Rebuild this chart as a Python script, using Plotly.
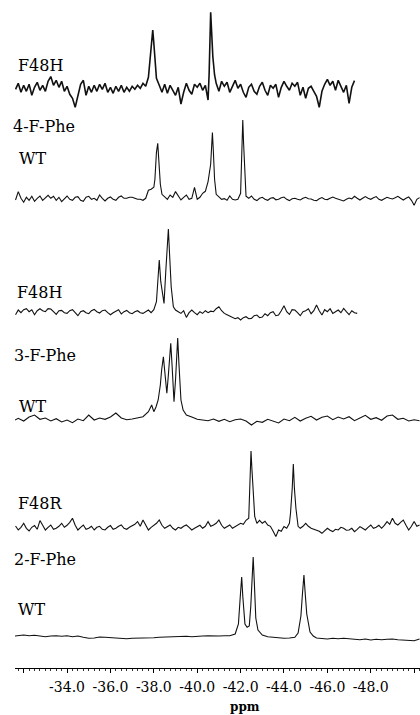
import plotly.graph_objects as go

# ---------------- data: chemical shift (ppm) and intensity (arbitrary units) ----------------
# shared sampling positions of the noisy baselines (every 0.125 ppm)
ppm_grid = [
    -31.625, -31.75, -31.875, -32.0, -32.125, -32.25, -32.375, -32.5,
    -32.625, -32.75, -32.875, -33.0, -33.125, -33.25, -33.375, -33.5,
    -33.625, -33.75, -33.875, -34.0, -34.125, -34.25, -34.375, -34.5,
    -34.625, -34.75, -34.875, -35.0, -35.125, -35.25, -35.375, -35.5,
    -35.625, -35.75, -35.875, -36.0, -36.125, -36.25, -36.375, -36.5,
    -36.625, -36.75, -36.875, -37.0, -37.125, -37.25, -37.375, -37.5,
    -37.625, -37.75, -37.875, -38.0, -38.125, -38.25, -38.375, -38.5,
    -38.625, -38.75, -38.875, -39.0, -39.125, -39.25, -39.375, -39.5,
    -39.625, -39.75, -39.875, -40.0, -40.125, -40.25, -40.375, -40.5,
    -40.625, -40.75, -40.875, -41.0, -41.125, -41.25, -41.375, -41.5,
    -41.625, -41.75, -41.875, -42.0, -42.125, -42.25, -42.375, -42.5,
    -42.625, -42.75, -42.875, -43.0, -43.125, -43.25, -43.375, -43.5,
    -43.625, -43.75, -43.875, -44.0, -44.125, -44.25, -44.375, -44.5,
    -44.625, -44.75, -44.875, -45.0, -45.125, -45.25, -45.375, -45.5,
    -45.625, -45.75, -45.875, -46.0, -46.125, -46.25, -46.375, -46.5,
    -46.625, -46.75, -46.875, -47.0, -47.125, -47.25, -47.375, -47.5,
    -47.625, -47.75, -47.875, -48.0, -48.125, -48.25, -48.375, -48.5,
    -48.625, -48.75, -48.875, -49.0, -49.125, -49.25, -49.375, -49.5,
    -49.625, -49.75, -49.875, -50.0, -50.125, -50.25,
]

# 4-F-Phe, F48H  (None = inside a peak, taken from the peak lists)
base_4f_f48h = [
    0, 6, -3, 4, -2, 5, -6, 2,
    7, -1, 4, -2, 8, 12.7, 4, 9,
    2, 8, -2, 3, -5, -9, -18, -6,
    5, 9, -6, 3, -3, 4, -2, 5,
    0, 6, -3, 2, -4, 3, -2, 4,
    -3, 2, -2, 3, 0, 4, 1, 6,
    3, 12, None, None, None, 4, -3, 5,
    -4, 4, -1, -6, 2, -14.7, -3, 6,
    -1, -5, 5, 2, 6, -1, 4, -10.7,
    None, None, 6, -2, 8, 3, 7, -3,
    4, 9, 1, 5, -3, -8, 2, 5,
    -2, -5, 3, 7, -1, -6, 4, 1,
    5, -8, 2, 8, 3, -1, 6, 3,
    7, -6, 2, -9, 1, 3, -2, -7,
    -18, -2, 5, 10, 4, 8, -1, 9,
    3, -3, 4, -14, 2, 8.7,
]
peak_ppm_4f_f48h = [-37.85, -37.9, -37.95, -38.0, -38.05, -38.12,
                    -40.55, -40.59, -40.62, -40.66, -40.72, -40.8]
peak_int_4f_f48h = [32.7, 49, 59.3, 46, 31, 11,
                    16, 56, 77, 59.3, 32.7, 14.3]

# 4-F-Phe, WT
base_4f_wt = [
    -0.7, 7.7, 1, -3, 2, -1, 3, -2,
    1, 3.3, -1, 2, 4, 1, 3, -1,
    2, -2.3, 1, 3.3, 0, -1, 2, 2.7,
    -1, -2, 2, 3, 0, 1, -1, 4.3,
    1, -1.7, 1, 2.3, 0, -1, 2, 3.3,
    1, 1, 2, 2, 1, 0, 0, -1,
    1, 9, 10, 12, None, None, 5, 2,
    0, 4.3, 2, 7.7, 3, -0.7, 2, 4.3,
    0, 1, 12, 0, 2, 6, 8, 17.7,
    None, None, 5, 2, 0, 0.7, -1, 3.3,
    0, -0.7, 0, 6, None, 3, 1, 3.3,
    0, -1.3, 1, 2, 0, -1, 1, 1.7,
    -0.5, 0, 1.5, 2.3, 0, -1.3, 0.5, 1,
    0, -0.7, 1, 2, 0.5, 0.3, -1, -1.3,
    0.5, 1.7, 0, -0.3, 1, 2.3, 1, 0,
    -1, -1.7, 0, 1.3, 0.5, 3, 1, -0.7,
    1, 2.7, 1, 0, 1.5, 2.7, 0, -1,
    0.5, 2, 1, 0.3, 1.5, 3, 1, -0.7,
    1, 2.3, -1, -6, 0, 1.7,
]
peak_ppm_4f_wt = [-38.05, -38.12, -38.18, -38.24, -38.3,
                  -40.62, -40.67, -40.7, -40.74, -40.8,
                  -42.04, -42.07, -42.1, -42.14, -42.2]
peak_int_4f_wt = [20, 47, 56, 40, 15,
                  35, 58, 66.7, 50, 20,
                  30, 60, 79.3, 55, 20]

# 3-F-Phe, F48H
base_3f_f48h = [
    -3, 1.7, -1, 2, 3, 0, 2, -3,
    1, 3, 1, 0, 3, 2.7, 0, -2.7,
    1, 1.3, -1, -1.7, 1, 2, -1, -4,
    0, 1, -1, -2, 1, 2.3, 0, -1.3,
    1, 1.7, -1, -3, -1, 0.7, 2, -2.3,
    0, 1.3, -1, -2, 0, 1, -1, -1.7,
    0, 1.7, -1, 2, None, None, None, None,
    None, None, None, 1.7, 0, -1.7, 1, -5.7,
    -1, 1.7, -1, -3, 0, -1.7, 1, -1,
    0.5, 0, 3, 5, 1, -1.7, -3, -4.3,
    -5.5, -7, -6, -8.3, -6, -5, -7, -6.7,
    -4, -3.3, -6, -5.3, -2, -4, -1, 0,
    -4, -3.3, 1, 6, 0, -2.7, 2, 1.7,
    -1, -4, 0, 1, 3, -2, 1, 6.7,
    1, -3.3, 2, 0, 3, -1.7, 0, 1.7,
    -1, 3.3, 0, -3, 1, -1, -1.7,
]
peak_ppm_3f_f48h = [-38.12, -38.18, -38.25, -38.32, -38.4, -38.47,
                    -38.55, -38.62, -38.67, -38.72, -38.8, -38.9]
peak_int_3f_f48h = [10, 30, 51.7, 30, 15, 8.3,
                    40, 70, 82.7, 60, 25, 5]

# 3-F-Phe, WT
ppm_3f_wt = [-31.6, -31.75, -32.0, -32.25, -32.5, -32.75, -33.0, -33.25, -33.5, -33.75, -34.0, -34.25,
             -34.5, -34.75, -35.0, -35.25, -35.5, -35.75, -36.0, -36.25, -36.5, -36.75, -37.0, -37.25,
             -37.5, -37.75, -37.9, -38.0, -38.1, -38.2, -38.3, -38.36, -38.44, -38.52, -38.6, -38.67,
             -38.73, -38.78, -38.84, -38.93, -39.0, -39.05, -39.1, -39.16, -39.25, -39.35, -39.5, -39.75,
             -40.0, -40.25, -40.5, -40.75, -41.0, -41.25, -41.5, -41.75, -42.0, -42.25, -42.5, -42.75,
             -43.0, -43.25, -43.5, -43.75, -44.0, -44.25, -44.5, -44.75, -45.0, -45.25, -45.5, -45.75,
             -46.0, -46.25, -46.5, -46.75, -47.0, -47.25, -47.5, -47.75, -48.0, -48.25, -48.5, -48.75,
             -49.0, -49.25, -49.5, -49.75, -50.0, -50.25]
int_3f_wt = [0, 1.7, -1, 3, 5, 0.7, 2, -1, 1.3, -2, 0, -2.7,
             1, -0.7, 5, 0, 2, 0.7, 3, 7, 2, 0.3, 1, 2.3,
             3.3, 8.3, 15, 8.3, 13, 20, 35, 50, 63.3, 45, 26.7, 45,
             65, 76.7, 55, 18.3, 40, 68, 82, 55, 20, 10, 5, 3,
             0.7, 0, -0.7, 1, -1.3, 0.7, -1.7, 0.3, 1, -1, -5, -1.3,
             -2.3, 0.7, -1, -3, 1, -0.7, 2.7, -1, 1.7, 3.7, 0, 2.7,
             4, 0.3, 3, 1, 3.3, -0.7, 2, 4.7, 0.7, 2.3, -0.3, 4,
             5, 0.7, 1.7, -1, 0.3, -0.7]

# 2-F-Phe, F48R
base_2f_f48r = [
    2.3, -1.7, 1, 5, 0, -2.7, 1, 2.7,
    -1, 7.7, 3, -1.7, 1, 3.3, -1, 0,
    2, 5, 1, 3, 6, 10, 3, -1.7,
    1, 3.3, -1, 0, 2, -1.7, 1, 2,
    -1, -1.7, 1, 2.7, -1, 0, 2, 3.3,
    0, -1, 1, 2.3, 4, 6.7, 2, 8.3,
    3, -1.7, 1, 3.3, 5, 8.3, 3, 0,
    2, 3.3, 0, -1.7, 1, 0, 2, 3.3,
    1, -1.7, 0, 1.7, 3, 0, 2, 6.7,
    2, 3.3, 5, 8.3, 3, 0, 2, 3.3,
    0, 1.7, 3, 5, 4, 8, 10, None,
    None, 5, 8, 5, 7, 3.3, 2, -3,
    -8.3, -1.7, -3, 1.7, 0, 5, None, None,
    None, 0, 2, 5, 2, 0, -1, -1.7,
    -3, -5, -2, 0, -2, -3.3, -1, -1.7,
    1, 0, -2, -1.7, 0, -3.3, -1, 1.7,
    0, -1.7, 1, 3.3, 0, 1, 3, 0,
    3, 6.7, 4, 10, 5, 3.3, 6, 8.3,
    3, -1.7, 2, 6.7, 2, 3.3,
]
peak_ppm_2f_f48r = [-42.4, -42.45, -42.48, -42.52, -42.57, -42.65,
                    -44.3, -44.38, -44.43, -44.48, -44.55, -44.65]
peak_int_2f_f48r = [30, 60, 77.3, 60, 35, 12,
                    15, 40, 64.3, 40, 20, 2]

# 2-F-Phe, WT
ppm_2f_wt = [-31.6, -31.75, -32.0, -32.25, -32.5, -32.75, -33.0, -33.25, -33.5, -33.75, -34.0, -34.25,
             -34.5, -34.75, -35.0, -35.25, -35.5, -35.75, -36.0, -36.25, -36.5, -36.75, -37.0, -37.25,
             -37.5, -37.75, -38.0, -38.25, -38.5, -38.75, -39.0, -39.25, -39.5, -39.75, -40.0, -40.25,
             -40.5, -40.75, -41.0, -41.25, -41.5, -41.75, -41.9, -41.98, -42.05, -42.1, -42.2, -42.3,
             -42.4, -42.47, -42.53, -42.58, -42.63, -42.7, -42.8, -43.0, -43.25, -43.5, -43.75, -44.0,
             -44.25, -44.5, -44.65, -44.78, -44.85, -44.92, -44.98, -45.05, -45.2, -45.35, -45.5, -45.75,
             -46.0, -46.25, -46.5, -46.75, -47.0, -47.25, -47.5, -47.75, -48.0, -48.25, -48.5, -48.75,
             -49.0, -49.25, -49.5, -49.75, -50.0, -50.25]
int_2f_wt = [0, 0.3, 1, 0.3, 0.7, 0, -0.7, 0, 0.3, -0.3, 0.3, -0.7,
             0, -1.3, -2.3, -2, -1, -1.3, -1.7, -2, -3, -2.7, -2.3, -2.3,
             -2, -1.7, -1.7, -1.3, -1, -0.7, -0.7, -0.7, -0.3, -0.7, 0, 0,
             0.3, 0, 0, 0.3, 0.3, 2, 12, 38, 59, 40, 12, 8.7,
             10, 30, 60, 79, 55, 18, 6, 1, -0.7, -1.3, -2, -2.3,
             -2, -1.3, 3, 20, 42, 61, 42, 22, 4, 0, -2, -2.3,
             -3, -2.3, -2.7, -2.3, -2.7, -3.3, -3.7, -3, -4, -3.3, -3.7, -3.3,
             -3, -3.7, -4, -4.3, -4.7, -3]

tick_values = [-32, -34, -36, -38, -40, -42, -44, -46, -48, -50]
tick_labels = ["", "-34.0", "-36.0", "-38.0", "-40.0", "-42.0", "-44.0", "-46.0", "-48.0", ""]
trace_labels = ["F48H", "4-F-Phe", "WT", "F48H", "3-F-Phe", "WT", "F48R", "2-F-Phe", "WT"]
axis_title = "ppm"


def compose(grid, base, pk_ppm, pk_int):
    pts = [(p, v) for p, v in zip(grid, base) if v is not None]
    pts += list(zip(pk_ppm, pk_int))
    pts.sort(key=lambda t: t[0], reverse=True)
    return [p for p, _ in pts], [v for _, v in pts]


spectra = [
    compose(ppm_grid, base_4f_f48h, peak_ppm_4f_f48h, peak_int_4f_f48h),
    compose(ppm_grid, base_4f_wt, peak_ppm_4f_wt, peak_int_4f_wt),
    compose(ppm_grid, base_3f_f48h, peak_ppm_3f_f48h, peak_int_3f_f48h),
    (ppm_3f_wt, int_3f_wt),
    compose(ppm_grid, base_2f_f48r, peak_ppm_2f_f48r, peak_int_2f_f48r),
    (ppm_2f_wt, int_2f_wt),
]

# ---------------- layout (pixel geometry) ----------------
W, H = 420, 715
ML, MR, MT, MB = 15, 0, 0, 47
PH = H - MT - MB
baseline_px = [89.3, 199.3, 311.7, 420.0, 528.3, 636.0]
line_widths = [1.6, 1.1, 1.1, 1.1, 1.1, 1.1]
label_left_px = [17, 12, 18, 16, 13, 18, 17, 13, 17]
label_mid_px = [65.5, 127, 158, 292, 355, 406, 503, 559, 609]

SERIF = "DejaVu Serif"

fig = go.Figure()
layout = dict(
    width=W, height=H,
    margin=dict(l=ML, r=MR, t=MT, b=MB, autoexpand=False),
    paper_bgcolor="white", plot_bgcolor="white",
    showlegend=False,
    xaxis=dict(
        range=[-31.6, -50.27], anchor="free", position=0,
        showline=True, linecolor="black", linewidth=1,
        showgrid=False, zeroline=False,
        ticks="outside", ticklen=4, tickwidth=1, tickcolor="black",
        tickmode="array", tickvals=tick_values, ticktext=tick_labels,
        tickfont=dict(family=SERIF, size=14, color="black"),
        ticklabelstandoff=2,
        minor=dict(ticks="outside", ticklen=2, tickwidth=1, tickcolor="#333",
                   tickmode="linear", tick0=-32, dtick=0.25, showgrid=False),
    ),
)

for i, (px, iy) in enumerate(spectra):
    B = baseline_px[i]
    top = max(B - 90, 0)
    bot = min(B + 25, PH)
    name = "yaxis" if i == 0 else f"yaxis{i+1}"
    ref = "y" if i == 0 else f"y{i+1}"
    layout[name] = dict(
        domain=[(PH - bot) / PH, (PH - top) / PH],
        range=[-(bot - B), B - top],
        anchor="x", visible=False, showgrid=False, zeroline=False, fixedrange=True,
    )
    fig.add_trace(go.Scatter(
        x=px, y=iy, mode="lines", xaxis="x", yaxis=ref,
        line=dict(color="#111", width=line_widths[i]), hoverinfo="skip",
    ))

annotations = []
for txt, lx, my in zip(trace_labels, label_left_px, label_mid_px):
    annotations.append(dict(
        text=txt, xref="paper", yref="paper",
        x=(lx - ML) / (W - ML - MR), y=(PH - my) / PH,
        xanchor="left", yanchor="middle", showarrow=False, borderpad=0,
        font=dict(family=SERIF, size=16, color="black"),
    ))
annotations.append(dict(
    text=f"<b>{axis_title}</b>", xref="paper", yref="paper",
    x=(245 - ML) / (W - ML - MR), y=(PH - 707) / PH,
    xanchor="center", yanchor="middle", showarrow=False, borderpad=0,
    font=dict(family=SERIF, size=12, color="black"),
))
layout["annotations"] = annotations

fig.update_layout(**layout)
fig.write_html(
    "out.html",
    config={"displayModeBar": False},
    post_script="document.body.style.margin='0';document.body.style.padding='0';",
)
